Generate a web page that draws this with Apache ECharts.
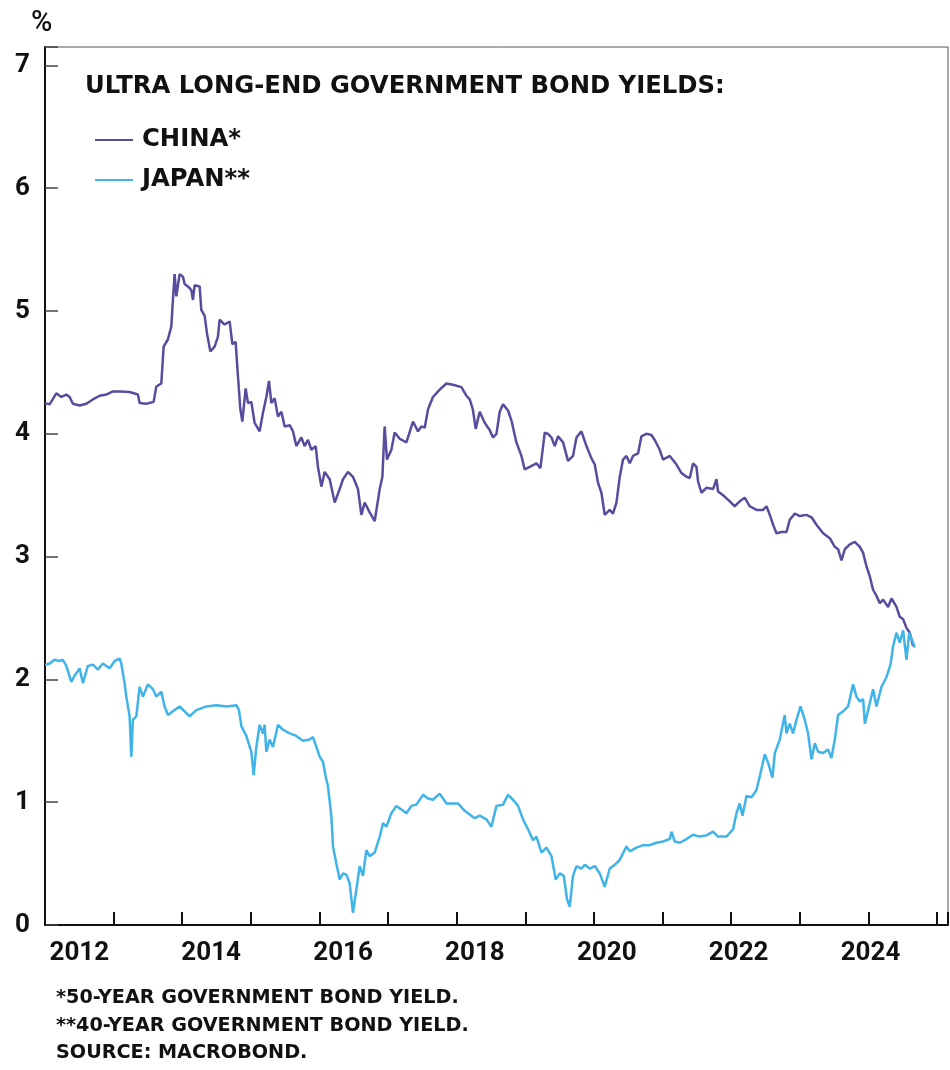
<!DOCTYPE html>
<html><head><meta charset="utf-8">
<script src="https://cdn.jsdelivr.net/npm/echarts@6/dist/echarts.min.js"></script>
<style>html,body{margin:0;padding:0;background:#fff}#c{width:950px;height:1070px}</style>
</head><body><div id="c"></div>
<script>
const chartTitle = 'ULTRA LONG-END GOVERNMENT BOND YIELDS:';
const unitLabel = '%';
const seriesNames = ['CHINA*', 'JAPAN**'];
const footnotes = ['*50-YEAR GOVERNMENT BOND YIELD.', '**40-YEAR GOVERNMENT BOND YIELD.', 'SOURCE: MACROBOND.'];
const yTickValues = [0, 1, 2, 3, 4, 5, 6, 7];
const xLabelYears = [2012, 2014, 2016, 2018, 2020, 2022, 2024];

// [decimal year, yield %]
const china = [
[2012.000,4.25],[2012.067,4.24],[2012.165,4.33],[2012.238,4.30],[2012.310,4.32],[2012.359,4.30],[2012.407,4.245],
[2012.504,4.23],[2012.602,4.245],[2012.698,4.28],[2012.796,4.31],[2012.894,4.32],[2012.990,4.345],[2013.087,4.345],
[2013.233,4.34],[2013.354,4.32],[2013.379,4.25],[2013.477,4.245],[2013.583,4.26],[2013.622,4.385],[2013.695,4.41],
[2013.729,4.71],[2013.792,4.77],[2013.841,4.875],[2013.864,5.09],[2013.889,5.30],[2013.914,5.12],[2013.962,5.30],
[2014.010,5.28],[2014.035,5.22],[2014.083,5.20],[2014.133,5.17],[2014.156,5.09],[2014.181,5.21],[2014.254,5.20],
[2014.278,5.01],[2014.327,4.96],[2014.360,4.82],[2014.410,4.67],[2014.472,4.71],[2014.520,4.79],[2014.545,4.93],
[2014.618,4.89],[2014.691,4.915],[2014.730,4.73],[2014.778,4.75],[2014.812,4.47],[2014.847,4.20],[2014.876,4.10],
[2014.924,4.37],[2014.958,4.25],[2015.007,4.26],[2015.055,4.09],[2015.128,4.02],[2015.176,4.17],[2015.226,4.30],
[2015.264,4.43],[2015.299,4.25],[2015.347,4.29],[2015.395,4.14],[2015.445,4.18],[2015.493,4.06],[2015.566,4.07],
[2015.614,4.02],[2015.663,3.90],[2015.736,3.97],[2015.784,3.90],[2015.832,3.95],[2015.882,3.87],[2015.945,3.90],
[2015.978,3.73],[2016.028,3.57],[2016.076,3.69],[2016.149,3.63],[2016.222,3.44],[2016.294,3.55],[2016.343,3.63],
[2016.415,3.69],[2016.488,3.65],[2016.561,3.55],[2016.611,3.34],[2016.659,3.44],[2016.732,3.36],[2016.805,3.29],
[2016.878,3.55],[2016.917,3.65],[2016.950,4.06],[2016.984,3.79],[2017.048,3.87],[2017.096,4.01],[2017.169,3.96],
[2017.267,3.93],[2017.363,4.10],[2017.436,4.02],[2017.485,4.06],[2017.534,4.05],[2017.582,4.20],[2017.654,4.30],
[2017.752,4.36],[2017.850,4.41],[2017.946,4.40],[2018.068,4.38],[2018.141,4.31],[2018.190,4.28],[2018.235,4.20],
[2018.277,4.04],[2018.335,4.18],[2018.408,4.09],[2018.481,4.03],[2018.529,3.97],[2018.579,4.00],[2018.627,4.18],
[2018.675,4.24],[2018.748,4.19],[2018.797,4.11],[2018.870,3.93],[2018.943,3.82],[2018.991,3.71],[2019.064,3.73],
[2019.162,3.76],[2019.220,3.72],[2019.283,4.01],[2019.331,4.00],[2019.381,3.97],[2019.429,3.90],[2019.477,3.98],
[2019.550,3.93],[2019.622,3.78],[2019.695,3.82],[2019.745,3.97],[2019.818,4.02],[2019.891,3.90],[2019.964,3.80],
[2020.012,3.75],[2020.060,3.60],[2020.109,3.52],[2020.157,3.34],[2020.230,3.38],[2020.278,3.35],[2020.328,3.44],
[2020.376,3.65],[2020.424,3.79],[2020.474,3.82],[2020.522,3.76],[2020.570,3.82],[2020.643,3.84],[2020.692,3.98],
[2020.765,4.00],[2020.838,3.99],[2020.886,3.95],[2020.959,3.87],[2021.007,3.79],[2021.105,3.82],[2021.203,3.75],
[2021.276,3.68],[2021.348,3.65],[2021.397,3.64],[2021.445,3.76],[2021.494,3.73],[2021.518,3.61],[2021.567,3.52],
[2021.640,3.56],[2021.736,3.55],[2021.786,3.63],[2021.809,3.53],[2021.882,3.50],[2021.980,3.45],[2022.052,3.41],
[2022.125,3.45],[2022.198,3.48],[2022.271,3.41],[2022.369,3.38],[2022.465,3.38],[2022.515,3.41],[2022.563,3.34],
[2022.611,3.26],[2022.660,3.19],[2022.733,3.20],[2022.806,3.20],[2022.854,3.30],[2022.927,3.35],[2023.000,3.33],
[2023.098,3.34],[2023.171,3.32],[2023.243,3.26],[2023.340,3.19],[2023.437,3.15],[2023.510,3.08],[2023.558,3.06],
[2023.608,2.97],[2023.656,3.06],[2023.729,3.10],[2023.802,3.12],[2023.875,3.08],[2023.923,3.03],[2023.972,2.92],
[2024.020,2.84],[2024.068,2.73],[2024.118,2.68],[2024.166,2.62],[2024.214,2.65],[2024.287,2.59],[2024.337,2.66],
[2024.409,2.59],[2024.457,2.51],[2024.506,2.49],[2024.555,2.42],[2024.603,2.38],[2024.652,2.27]
];

const japan = [
[2012.000,2.12],[2012.067,2.13],[2012.140,2.16],[2012.213,2.15],[2012.261,2.16],[2012.310,2.11],[2012.383,1.98],
[2012.431,2.03],[2012.504,2.09],[2012.552,1.97],[2012.625,2.11],[2012.698,2.12],[2012.771,2.08],[2012.844,2.13],
[2012.942,2.09],[2013.015,2.15],[2013.087,2.17],[2013.112,2.13],[2013.160,1.97],[2013.185,1.86],[2013.233,1.70],
[2013.258,1.37],[2013.281,1.67],[2013.331,1.70],[2013.379,1.94],[2013.427,1.86],[2013.500,1.96],[2013.573,1.92],
[2013.622,1.86],[2013.695,1.90],[2013.743,1.78],[2013.792,1.71],[2013.864,1.74],[2013.962,1.78],[2014.035,1.74],
[2014.108,1.70],[2014.206,1.75],[2014.351,1.78],[2014.497,1.79],[2014.643,1.78],[2014.789,1.79],[2014.827,1.75],
[2014.862,1.62],[2014.934,1.54],[2015.007,1.41],[2015.041,1.22],[2015.080,1.45],[2015.128,1.63],[2015.176,1.56],
[2015.201,1.63],[2015.226,1.41],[2015.274,1.51],[2015.322,1.45],[2015.395,1.63],[2015.468,1.59],[2015.566,1.56],
[2015.663,1.54],[2015.759,1.50],[2015.857,1.51],[2015.905,1.53],[2015.955,1.45],[2016.003,1.37],[2016.051,1.33],
[2016.090,1.21],[2016.124,1.13],[2016.174,0.88],[2016.197,0.64],[2016.246,0.50],[2016.294,0.37],[2016.343,0.42],
[2016.392,0.41],[2016.440,0.34],[2016.488,0.10],[2016.538,0.29],[2016.586,0.48],[2016.634,0.40],[2016.684,0.61],
[2016.732,0.56],[2016.805,0.59],[2016.878,0.72],[2016.926,0.83],[2016.975,0.80],[2017.048,0.91],[2017.121,0.97],
[2017.194,0.94],[2017.267,0.91],[2017.340,0.97],[2017.413,0.98],[2017.509,1.06],[2017.582,1.03],[2017.654,1.02],
[2017.752,1.07],[2017.850,0.99],[2017.946,0.99],[2018.019,0.99],[2018.117,0.93],[2018.190,0.90],[2018.262,0.87],
[2018.335,0.89],[2018.433,0.86],[2018.506,0.80],[2018.579,0.97],[2018.675,0.98],[2018.748,1.06],[2018.821,1.02],
[2018.894,0.97],[2018.966,0.86],[2019.039,0.78],[2019.112,0.69],[2019.162,0.72],[2019.235,0.59],[2019.308,0.63],
[2019.381,0.56],[2019.443,0.37],[2019.501,0.42],[2019.560,0.40],[2019.608,0.21],[2019.647,0.15],[2019.695,0.40],
[2019.745,0.48],[2019.818,0.46],[2019.866,0.49],[2019.939,0.46],[2020.012,0.48],[2020.085,0.42],[2020.157,0.31],
[2020.230,0.46],[2020.303,0.49],[2020.376,0.53],[2020.474,0.64],[2020.522,0.60],[2020.620,0.63],[2020.716,0.65],
[2020.813,0.65],[2020.911,0.67],[2021.007,0.68],[2021.105,0.70],[2021.130,0.76],[2021.178,0.68],[2021.251,0.67],
[2021.348,0.70],[2021.445,0.735],[2021.542,0.72],[2021.640,0.73],[2021.736,0.76],[2021.809,0.72],[2021.932,0.72],
[2022.028,0.78],[2022.077,0.91],[2022.125,0.99],[2022.165,0.89],[2022.223,1.05],[2022.296,1.04],[2022.369,1.10],
[2022.417,1.21],[2022.490,1.39],[2022.538,1.32],[2022.602,1.20],[2022.636,1.40],[2022.708,1.51],[2022.781,1.71],
[2022.806,1.56],[2022.854,1.64],[2022.902,1.56],[2022.952,1.67],[2023.010,1.78],[2023.073,1.67],[2023.121,1.56],
[2023.171,1.35],[2023.219,1.48],[2023.268,1.41],[2023.340,1.40],[2023.412,1.43],[2023.461,1.36],[2023.510,1.51],
[2023.558,1.71],[2023.631,1.74],[2023.704,1.78],[2023.777,1.96],[2023.826,1.86],[2023.875,1.82],[2023.923,1.84],
[2023.948,1.64],[2023.996,1.75],[2024.068,1.92],[2024.118,1.78],[2024.191,1.94],[2024.264,2.02],[2024.322,2.12],
[2024.360,2.27],[2024.409,2.38],[2024.457,2.30],[2024.506,2.40],[2024.555,2.16],[2024.594,2.38],[2024.629,2.33],
[2024.677,2.26]
];

const colors = ['#5a4b9e', '#40b4e8'];
const NUM_FONT = 'Roboto';
const TXT_FONT = '"DejaVu Sans"';
const X_MIN = 2012, X_MAX = 2025.16, Y_MIN = 0, Y_MAX = 7.15;
const PLOT = { left: 45, top: 47, width: 903, height: 878 };
const halfYearPx = PLOT.width / (X_MAX - X_MIN) / 2;

// font size that makes a text span a target pixel width
function fitSize(text, family, targetW) {
  const ctx = document.createElement('canvas').getContext('2d');
  ctx.font = 'bold 100px ' + family;
  return Math.round(100 * targetW / ctx.measureText(text).width * 10) / 10;
}
const titleSize = fitSize(chartTitle, TXT_FONT, 640);
const legendSize = titleSize;
const noteSize = fitSize(footnotes[1], TXT_FONT, 412);

const chart = echarts.init(document.getElementById('c'), null, { renderer: 'canvas' });
chart.setOption({
  animation: false,
  backgroundColor: '#fff',
  textStyle: { fontFamily: NUM_FONT },
  grid: [
    { left: PLOT.left, top: PLOT.top, width: PLOT.width, height: PLOT.height, show: true, borderColor: '#555', borderWidth: 1, backgroundColor: 'transparent' },
    { left: PLOT.left + halfYearPx, top: PLOT.top, width: PLOT.width, height: PLOT.height, show: false }
  ],
  legend: {
    data: seriesNames, orient: 'vertical', left: 95, top: 127, padding: 0, icon: 'rect', itemWidth: 38, itemHeight: 2,
    itemGap: 14, selectedMode: false,
    textStyle: { fontFamily: TXT_FONT, fontSize: legendSize, fontWeight: 'bold', color: '#111', lineHeight: 26, padding: [0, 0, 0, 4] }
  },
  xAxis: [
    { type: 'value', gridIndex: 0, min: X_MIN, max: X_MAX, interval: 1,
      axisLine: { show: true, onZero: false, lineStyle: { color: '#111', width: 2 } },
      axisTick: { show: true, inside: true, length: 13, lineStyle: { color: '#111', width: 2 } },
      axisLabel: { show: false }, splitLine: { show: false } },
    { type: 'value', gridIndex: 1, min: X_MIN, max: X_MAX, interval: 2,
      axisLine: { show: false }, axisTick: { show: false }, splitLine: { show: false },
      axisLabel: { show: true, margin: 15, fontFamily: NUM_FONT, fontSize: 26, fontWeight: 'bold', color: '#111',
        formatter: v => xLabelYears.includes(v) ? String(v) : '' } }
  ],
  yAxis: [
    { type: 'value', gridIndex: 0, min: Y_MIN, max: Y_MAX, interval: 1,
      axisLine: { show: true, lineStyle: { color: '#111', width: 2 } },
      axisTick: { show: true, inside: true, length: 13, lineStyle: { color: '#444', width: 1.5 } },
      axisLabel: { show: true, margin: 15, fontFamily: NUM_FONT, fontSize: 26, fontWeight: 'bold', color: '#111',
        formatter: v => yTickValues.includes(v) ? String(v) : '' },
      splitLine: { show: false } },
    { type: 'value', gridIndex: 1, min: Y_MIN, max: Y_MAX, show: false }
  ],
  series: [
    { name: seriesNames[0], type: 'line', xAxisIndex: 0, yAxisIndex: 0, data: china, showSymbol: false,
      lineStyle: { color: colors[0], width: 2.5 }, itemStyle: { color: colors[0] } },
    { name: seriesNames[1], type: 'line', xAxisIndex: 0, yAxisIndex: 0, data: japan, showSymbol: false,
      lineStyle: { color: colors[1], width: 2.5 }, itemStyle: { color: colors[1] } }
  ],
  graphic: [
    { type: 'text', x: 31, y: 24, style: { text: unitLabel, font: '500 29px ' + NUM_FONT, fill: '#111', verticalAlign: 'middle' } },
    { type: 'text', x: 85, y: 87, style: { text: chartTitle, font: 'bold ' + titleSize + 'px ' + TXT_FONT, fill: '#111', verticalAlign: 'middle' } },
    { type: 'text', x: 56, y: 998, style: { text: footnotes[0], font: 'bold ' + noteSize + 'px ' + TXT_FONT, fill: '#111', verticalAlign: 'middle' } },
    { type: 'text', x: 56, y: 1026, style: { text: footnotes[1], font: 'bold ' + noteSize + 'px ' + TXT_FONT, fill: '#111', verticalAlign: 'middle' } },
    { type: 'text', x: 56, y: 1053, style: { text: footnotes[2], font: 'bold ' + noteSize + 'px ' + TXT_FONT, fill: '#111', verticalAlign: 'middle' } }
  ]
});
</script></body></html>
